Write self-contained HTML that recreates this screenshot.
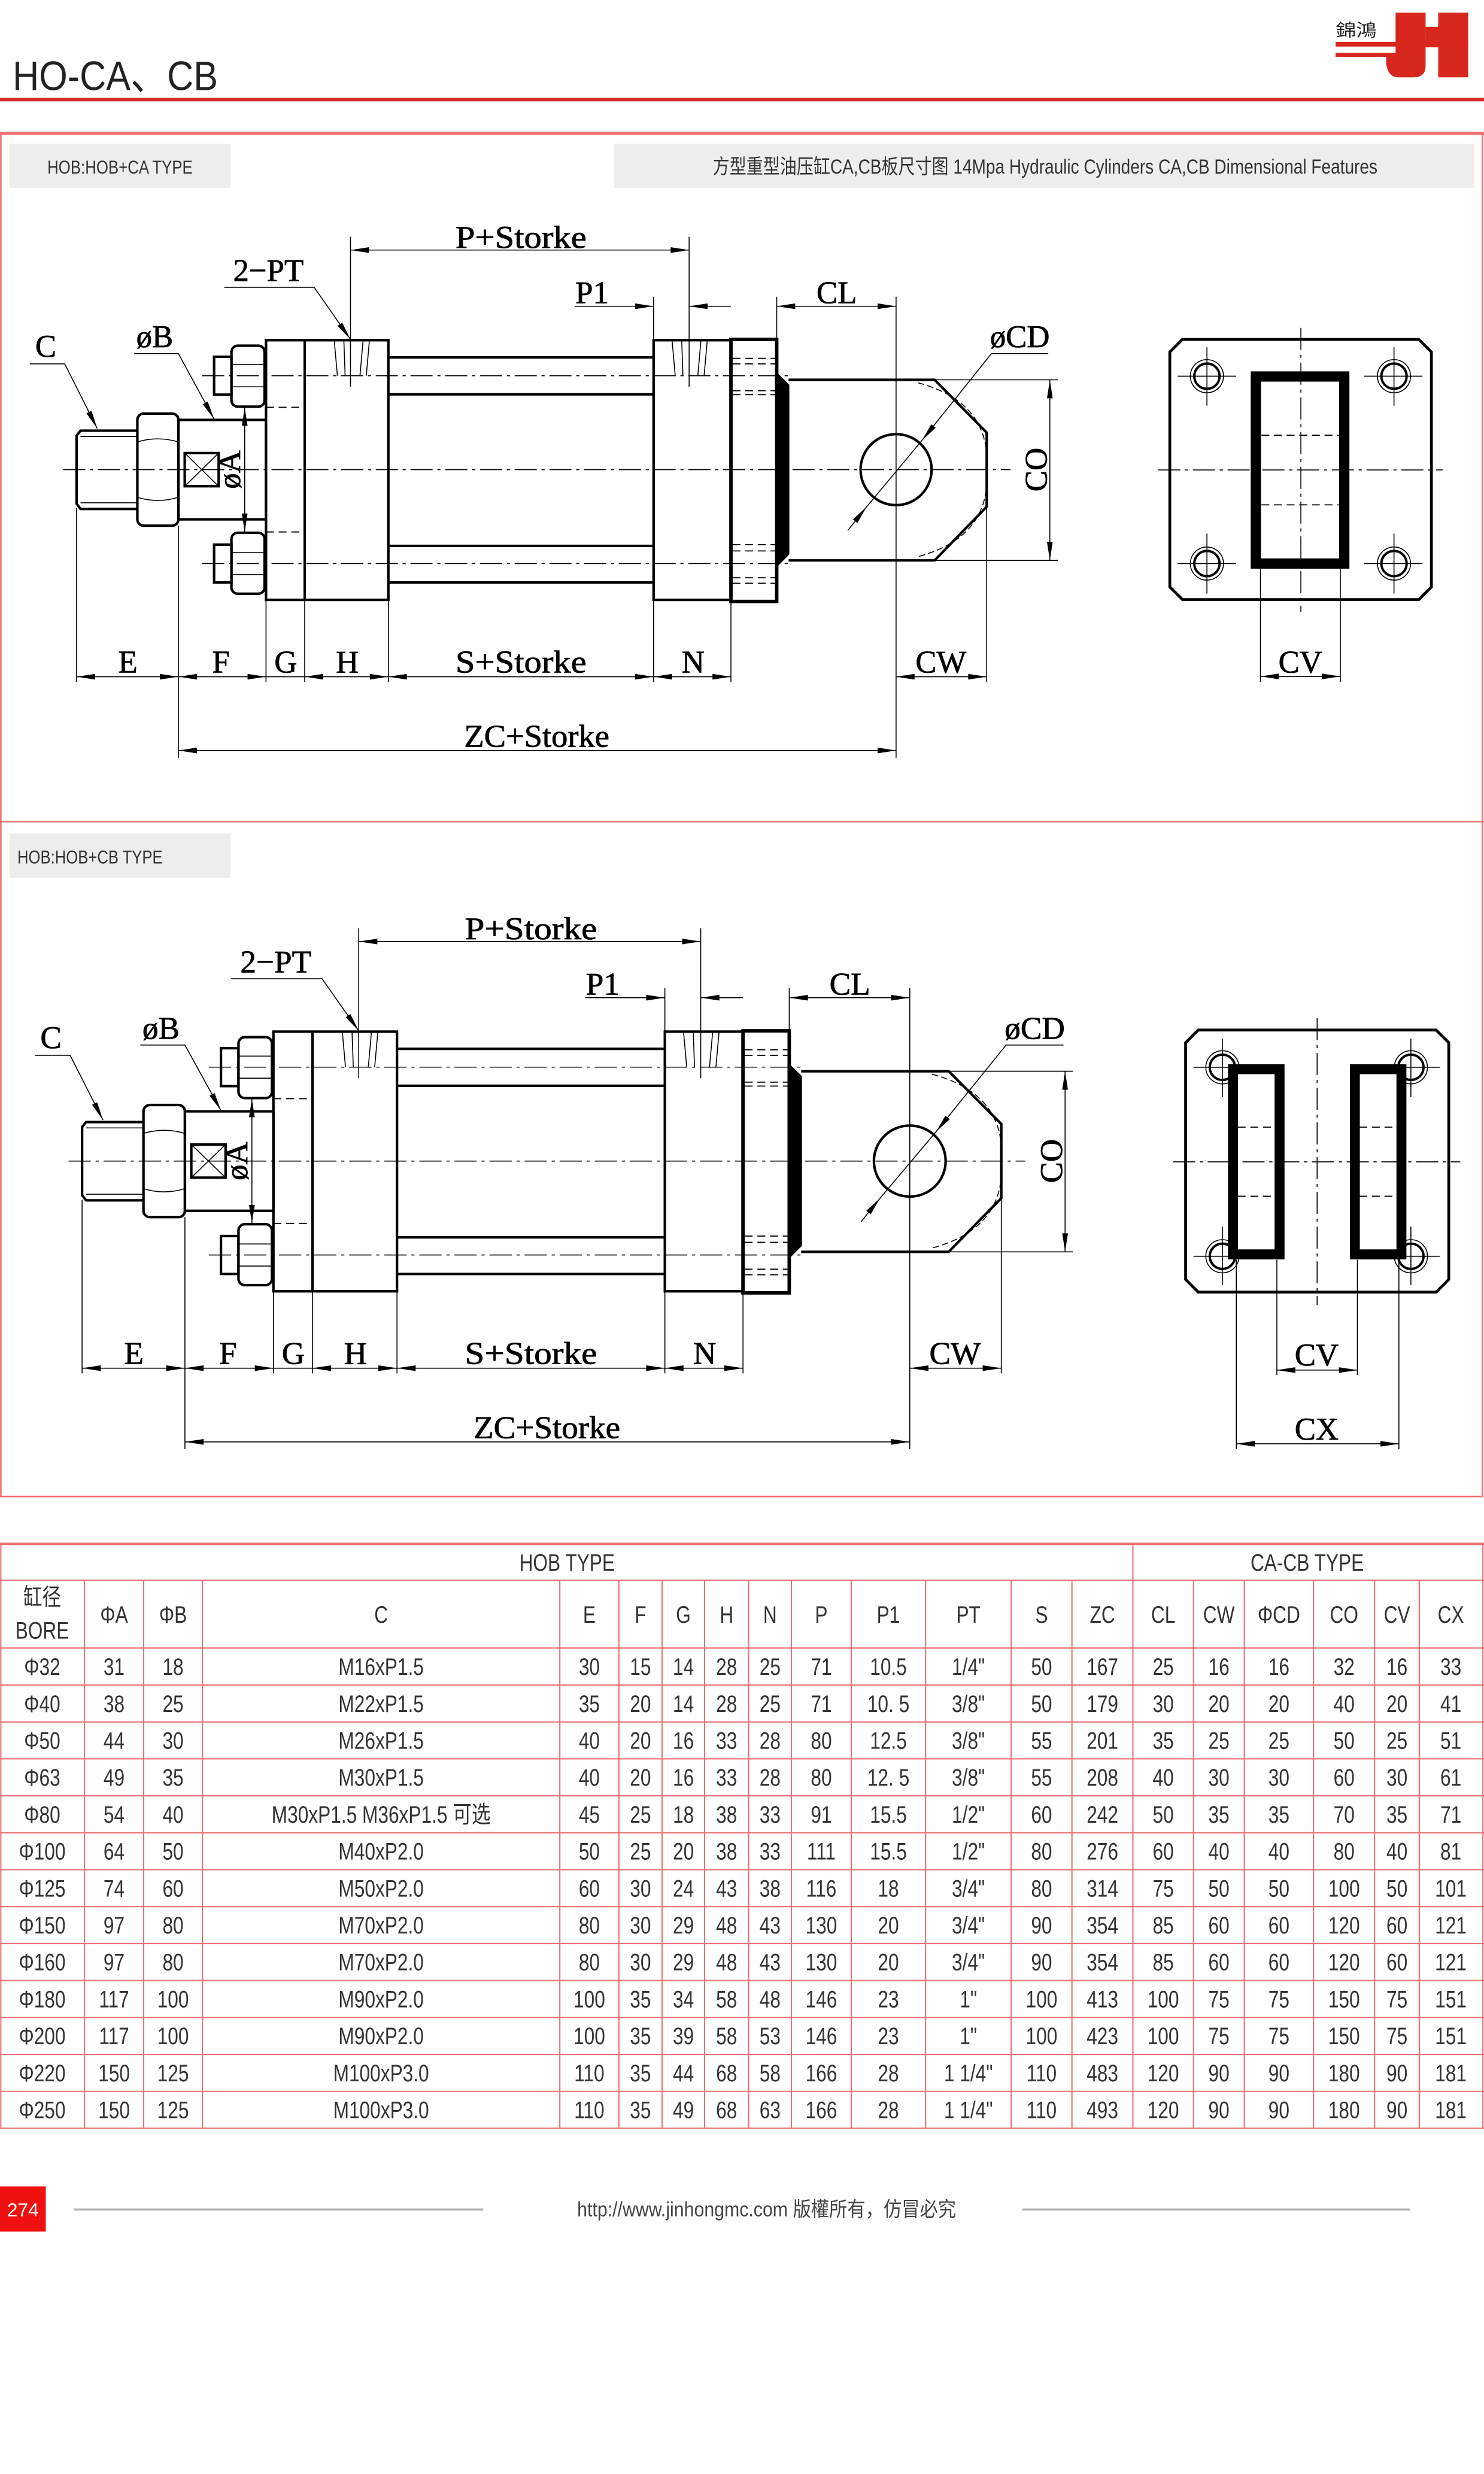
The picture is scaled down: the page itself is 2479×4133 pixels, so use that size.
<!DOCTYPE html>
<html><head><meta charset="utf-8"><style>
html,body{margin:0;padding:0;background:#fff}
svg{display:block}
.t{font-family:"Liberation Sans","Noto Sans CJK SC",sans-serif}
.s{font-family:"Liberation Serif","Noto Serif CJK SC",serif;font-size:20px;fill:#000;stroke:#000;stroke-width:.3}
.cl{stroke-width:.6;stroke-dasharray:14 3 2 3}
.th{stroke-width:.6}
.k{stroke-width:1.6}
.dsh{stroke-width:.7;stroke-dasharray:5 3}
</style></head><body>
<svg width="2479" height="4133" viewBox="0 0 940 1567.2" xmlns="http://www.w3.org/2000/svg">
<defs>
<marker id="a" viewBox="0 0 13 4" refX="13" refY="2" markerWidth="13" markerHeight="3.6" markerUnits="userSpaceOnUse" orient="auto-start-reverse"><path d="M0,0 L13,2 L0,4 z" fill="#000"/></marker>
<g id="cyl" fill="none" stroke="#000">
 <line x1="40" y1="297.5" x2="640" y2="297.5" class="cl"/>
 <line x1="128" y1="238" x2="500" y2="238" class="cl"/>
 <line x1="128" y1="357" x2="500" y2="357" class="cl"/>
 <!-- thread -->
 <path class="k" d="M87,272.8 L51,272.8 L48.5,276 L48.5,319 L51,322.4 L87,322.4"/>
 <line class="th" x1="51" y1="276.5" x2="87" y2="276.5"/><line class="th" x1="51" y1="318.5" x2="87" y2="318.5"/>
 <!-- hex nut -->
 <rect class="k" x="87" y="262" width="26" height="71" rx="4"/>
 <path class="th" d="M87,280 Q100,276 113,280 M87,315 Q100,319 113,315"/>
 <!-- body B -->
 <rect class="k" x="113" y="266" width="55.5" height="63"/>
 <rect class="k" x="117" y="287" width="21.5" height="21"/>
 <path class="th" d="M117,287 L138.5,308 M138.5,287 L117,308"/>
 <line class="th" x1="155" y1="258" x2="155" y2="337" marker-start="url(#a)" marker-end="url(#a)"/>
 <!-- tie rod nuts -->
 <rect class="k" x="135.6" y="226" width="11" height="24"/>
 <rect class="k" x="146.6" y="219" width="21" height="38.6" rx="4"/>
 <path class="th" d="M146.6,231 L167.6,231 M146.6,245 L167.6,245"/>
 <rect class="k" x="135.6" y="345" width="11" height="24"/>
 <rect class="k" x="146.6" y="337.5" width="21" height="38.6" rx="4"/>
 <path class="th" d="M146.6,350 L167.6,350 M146.6,364 L167.6,364"/>
 <!-- head -->
 <rect class="k" x="168.5" y="215.5" width="77.5" height="164.5"/>
 <line class="k" x1="193" y1="215.5" x2="193" y2="380"/>
 <line class="dsh" x1="168.5" y1="258" x2="193" y2="258"/><line class="dsh" x1="168.5" y1="337" x2="193" y2="337"/>
 <path class="th" d="M211.7,215.5 L213.7,238 M217.8,215.5 L218.6,238 M230,215.5 L228,238 M234,215.5 L232,238"/>
 <line class="th" x1="222" y1="150" x2="222" y2="245"/>
 <!-- tie rods -->
 <path class="k" d="M246,226.4 L414,226.4 M246,249.8 L414,249.8 M246,345.8 L414,345.8 M246,369 L414,369"/>
 <!-- cap -->
 <rect class="k" x="414" y="215.5" width="49" height="164.5"/>
 <path class="th" d="M425.7,215.5 L427.7,238 M431.8,215.5 L432.6,238 M444,215.5 L442,238 M448,215.5 L446,238"/>
 <line class="th" x1="436.5" y1="150" x2="436.5" y2="245"/>
 <!-- flange -->
 <rect x="463" y="215" width="29" height="166" stroke-width="2.2"/>
 <path class="dsh" d="M464,227 L491,227 M464,230.5 L491,230.5 M464,247.5 L491,247.5 M464,250 L491,250 M464,345 L491,345 M464,349 L491,349 M464,366 L491,366 M464,369.5 L491,369.5"/>
 <path d="M492,236.5 L499.5,244 L499.5,351 L492,358.6 Z" fill="#000"/>
 <!-- clevis -->
 <path class="k" d="M499.5,240.6 L592,240.6 L625,274 L625,321 L592,355 L499.5,355"/>
 <path d="M581.6,242.5 Q628,255 625,297.5 Q628,340 581.6,352.6" stroke-width=".6" stroke-dasharray="4 2"/>
 <circle class="k" cx="567.6" cy="297.5" r="22.5"/>
 <line class="th" x1="592" y1="240.6" x2="670" y2="240.6"/><line class="th" x1="592" y1="355" x2="670" y2="355"/>
 <line class="th" x1="665" y1="240.6" x2="665" y2="355" marker-start="url(#a)" marker-end="url(#a)"/>
 <!-- CD leader -->
 <path class="th" d="M664,224 L628,224"/>
 <line class="th" x1="628" y1="224" x2="584" y2="279" marker-end="url(#a)"/>
 <line class="th" x1="584" y1="279" x2="549" y2="321"/>
 <line class="th" x1="537" y1="336" x2="549" y2="321" marker-end="url(#a)"/>
 <!-- extension lines -->
 <path class="th" d="M48.5,322 L48.5,432 M113,333 L113,480 M168.5,380 L168.5,432 M193,380 L193,432 M246,380 L246,432 M414,380 L414,432 M463,380 L463,432 M567.6,188 L567.6,480 M625,321 L625,432 M492,188 L492,215 M414,188 L414,215"/>
 <!-- dims -->
 <g class="th">
 <line x1="48.5" y1="428.7" x2="113" y2="428.7" marker-start="url(#a)" marker-end="url(#a)"/>
 <line x1="113" y1="428.7" x2="168.5" y2="428.7" marker-start="url(#a)" marker-end="url(#a)"/>
 <line x1="168.5" y1="428.7" x2="193" y2="428.7"/>
 <line x1="193" y1="428.7" x2="246" y2="428.7" marker-start="url(#a)" marker-end="url(#a)"/>
 <line x1="246" y1="428.7" x2="414" y2="428.7" marker-start="url(#a)" marker-end="url(#a)"/>
 <line x1="414" y1="428.7" x2="463" y2="428.7" marker-start="url(#a)" marker-end="url(#a)"/>
 <line x1="567.6" y1="428.7" x2="625" y2="428.7" marker-start="url(#a)" marker-end="url(#a)"/>
 <line x1="113" y1="475.4" x2="567.6" y2="475.4" marker-start="url(#a)" marker-end="url(#a)"/>
 <line x1="222" y1="158.4" x2="436.5" y2="158.4" marker-start="url(#a)" marker-end="url(#a)"/>
 <line x1="364" y1="194" x2="414" y2="194" marker-end="url(#a)"/>
 <line x1="463" y1="194" x2="436.5" y2="194" marker-end="url(#a)"/>
 <line x1="492" y1="194" x2="567.6" y2="194" marker-start="url(#a)" marker-end="url(#a)"/>
 <polyline points="19,230.5 41,230.5 61.6,271.5" marker-end="url(#a)"/>
 <polyline points="85,224 113,224 135.6,265.5" marker-end="url(#a)"/>
 <polyline points="142,182 199,182 222,215" marker-end="url(#a)"/>
 </g>
</g>
<g id="lbl">
 <text class="s" x="81" y="426" text-anchor="middle">E</text>
 <text class="s" x="140" y="426" text-anchor="middle">F</text>
 <text class="s" x="181" y="426" text-anchor="middle">G</text>
 <text class="s" x="220" y="426" text-anchor="middle">H</text>
 <text class="s" x="330" y="426" text-anchor="middle" textLength="83" lengthAdjust="spacingAndGlyphs">S+Storke</text>
 <text class="s" x="439" y="426" text-anchor="middle">N</text>
 <text class="s" x="596" y="426" text-anchor="middle">CW</text>
 <text class="s" x="340" y="473" text-anchor="middle" textLength="92" lengthAdjust="spacingAndGlyphs">ZC+Storke</text>
 <text class="s" x="330" y="157" text-anchor="middle" textLength="83" lengthAdjust="spacingAndGlyphs">P+Storke</text>
 <text class="s" x="375" y="192" text-anchor="middle">P1</text>
 <text class="s" x="530" y="192" text-anchor="middle">CL</text>
 <text class="s" x="170" y="178" text-anchor="middle">2−PT</text>
 <text class="s" x="98" y="220" text-anchor="middle">øB</text>
 <text class="s" x="29" y="226" text-anchor="middle">C</text>
 <text class="s" x="646" y="220" text-anchor="middle">øCD</text>
 <text class="s" transform="translate(152,297.5) rotate(-90)" text-anchor="middle" dy="0">øA</text>
 <text class="s" transform="translate(663,297.5) rotate(-90)" text-anchor="middle">CO</text>
</g>
</defs>

<!-- header -->
<text class="t" x="8" y="57" font-size="26" textLength="130" lengthAdjust="spacingAndGlyphs" fill="#222">HO-CA、CB</text>
<rect x="0" y="62" width="940" height="2.2" fill="#d52b25"/>
<!-- logo -->
<text class="t" x="846" y="23" font-size="11" fill="#222" textLength="26" lengthAdjust="spacingAndGlyphs">錦鴻</text>
<g fill="#d7261e">
 <rect x="846" y="26.5" width="84" height="3"/>
 <rect x="846" y="33.5" width="38" height="2.5"/>
 <path d="M884,8 L903,8 L903,42 Q903,49 895,49 L886,49 Q879,49 878,40 L878,33.5 L884,33.5 Z"/>
 <rect x="911" y="8" width="19" height="41"/>
 <rect x="903" y="17" width="8" height="13"/>
</g>

<!-- panels -->
<rect x="0.5" y="84.5" width="938.5" height="863.5" fill="none" stroke="#ee7070" stroke-width="1"/>
<rect x="0" y="83.4" width="940" height="2" fill="#ee7070"/>
<line x1="0" y1="520.5" x2="940" y2="520.5" stroke="#ee7070" stroke-width="1"/>
<rect x="6" y="91" width="140" height="28" fill="#ededed"/>
<rect x="389" y="91" width="545" height="28" fill="#ededed"/>
<text class="t" x="76" y="110" font-size="12" text-anchor="middle" fill="#333" textLength="92" lengthAdjust="spacingAndGlyphs">HOB:HOB+CA TYPE</text>
<text class="t" x="662" y="110" font-size="13" text-anchor="middle" fill="#333" textLength="421" lengthAdjust="spacingAndGlyphs">方型重型油压缸CA,CB板尺寸图 14Mpa Hydraulic Cylinders CA,CB Dimensional Features</text>
<rect x="6" y="528" width="140" height="28" fill="#ededed"/>
<text class="t" x="57" y="547" font-size="12" text-anchor="middle" fill="#333" textLength="92" lengthAdjust="spacingAndGlyphs">HOB:HOB+CB TYPE</text>

<!-- drawing 1 -->
<use href="#cyl"/><use href="#lbl"/>
<!-- end view 1 -->
<g fill="none" stroke="#000">
 <path d="M749,215 L898.7,215 L906.7,223 L906.7,371.8 L898.7,379.8 L749,379.8 L741,371.8 L741,223 Z" stroke-width="1.8"/>
 <g>
  <circle cx="764.5" cy="238.3" r="8" stroke-width="1.5"/><circle cx="764.5" cy="238.3" r="10.5" class="th"/>
  <circle cx="883" cy="238.3" r="8" stroke-width="1.5"/><circle cx="883" cy="238.3" r="10.5" class="th"/>
  <circle cx="764.5" cy="357" r="8" stroke-width="1.5"/><circle cx="764.5" cy="357" r="10.5" class="th"/>
  <circle cx="883" cy="357" r="8" stroke-width="1.5"/><circle cx="883" cy="357" r="10.5" class="th"/>
  <path class="th" d="M746,238.3 L783,238.3 M764.5,220 L764.5,257 M864,238.3 L901,238.3 M883,220 L883,257 M746,357 L783,357 M764.5,338 L764.5,376 M864,357 L901,357 M883,338 L883,376"/>
 </g>
 <rect x="795.5" y="238.5" width="56" height="118.5" stroke-width="6.5"/>
 <path class="dsh" d="M799,275.7 L848,275.7 M799,319.8 L848,319.8"/>
 <line x1="733.6" y1="297.7" x2="914" y2="297.7" class="cl"/>
 <line x1="824" y1="207.7" x2="824" y2="387.7" class="cl"/>
 <path class="th" d="M798.4,360 L798.4,432 M849,360 L849,432"/>
 <line class="th" x1="798.4" y1="428.5" x2="849" y2="428.5" marker-start="url(#a)" marker-end="url(#a)"/>
</g>
<text class="s" x="823.7" y="426" text-anchor="middle">CV</text>

<!-- drawing 2 -->
<g transform="translate(3,438) scale(1.01,1)"><use href="#cyl"/><use href="#lbl"/></g>
<!-- end view 2 -->
<g fill="none" stroke="#000">
 <path d="M759,652.5 L909.7,652.5 L917.7,660.5 L917.7,810.5 L909.7,818.5 L759,818.5 L751,810.5 L751,660.5 Z" stroke-width="1.8"/>
 <circle cx="774.3" cy="676.1" r="8" stroke-width="1.5"/><circle cx="774.3" cy="676.1" r="10.5" class="th"/>
 <circle cx="893.7" cy="676.1" r="8" stroke-width="1.5"/><circle cx="893.7" cy="676.1" r="10.5" class="th"/>
 <circle cx="774.3" cy="795.8" r="8" stroke-width="1.5"/><circle cx="774.3" cy="795.8" r="10.5" class="th"/>
 <circle cx="893.7" cy="795.8" r="8" stroke-width="1.5"/><circle cx="893.7" cy="795.8" r="10.5" class="th"/>
 <path class="th" d="M756,676.1 L792,676.1 M774.3,658 L774.3,695 M875,676.1 L912,676.1 M893.7,658 L893.7,695 M756,795.8 L792,795.8 M774.3,777 L774.3,814 M875,795.8 L912,795.8 M893.7,777 L893.7,814"/>
 <rect x="781" y="677.3" width="29.5" height="117.3" stroke-width="6.3" fill="#fff"/>
 <rect x="858.2" y="677.3" width="29.5" height="117.3" stroke-width="6.3" fill="#fff"/>
 <path class="dsh" d="M784,714 L807,714 M784,757.8 L807,757.8 M861,714 L884,714 M861,757.8 L884,757.8"/>
 <line x1="743" y1="736" x2="925" y2="736" class="cl"/>
 <line x1="834.3" y1="645" x2="834.3" y2="826.7" class="cl"/>
 <path class="th" d="M808.8,798 L808.8,871 M859.8,798 L859.8,871 M783.1,798 L783.1,918 M886.1,798 L886.1,918"/>
 <line class="th" x1="808.8" y1="867.9" x2="859.8" y2="867.9" marker-start="url(#a)" marker-end="url(#a)"/>
 <line class="th" x1="783.1" y1="914.6" x2="886.1" y2="914.6" marker-start="url(#a)" marker-end="url(#a)"/>
</g>
<text class="s" x="834" y="865" text-anchor="middle">CV</text>
<text class="s" x="834" y="912" text-anchor="middle">CX</text>

<!-- table -->
<g stroke="#ee7070" stroke-width=".8" fill="none">
 <line x1="0" y1="978" x2="940" y2="978" stroke-width="1.6"/>
 <path d="M0,1001 H940 M0,1044 H940 M0,1067.4 H940 M0,1090.8 H940 M0,1114.2 H940 M0,1137.6 H940 M0,1161 H940 M0,1184.4 H940 M0,1207.8 H940 M0,1231.2 H940 M0,1254.6 H940 M0,1278 H940 M0,1301.4 H940 M0,1324.8 H940 M0,1348.2 H940"/>
 <path d="M0.5,978 V1348.2 M939.3,978 V1348.2 M717.6,978 V1001"/>
 <path d="M53.5,1001 V1348.2 M91,1001 V1348.2 M128.2,1001 V1348.2 M354.6,1001 V1348.2 M392,1001 V1348.2 M419.4,1001 V1348.2 M446.3,1001 V1348.2 M474.2,1001 V1348.2 M501.3,1001 V1348.2 M539.2,1001 V1348.2 M586.3,1001 V1348.2 M640.5,1001 V1348.2 M679,1001 V1348.2 M717.6,1001 V1348.2 M756,1001 V1348.2 M788.2,1001 V1348.2 M832,1001 V1348.2 M870.7,1001 V1348.2 M899,1001 V1348.2"/>
</g>
<g class="t" font-size="15" fill="#333" text-anchor="middle" transform="scale(0.8,1)">
 <text x="449" y="995">HOB TYPE</text>
 <text x="1035" y="995">CA-CB TYPE</text>
 <text x="33.4" y="1017">缸径</text><text x="33.4" y="1038">BORE</text>
 <g transform="translate(0,1028)"><text x="90.3">ΦA</text><text x="137">ΦB</text><text x="301.75">C</text><text x="466.6">E</text><text x="507.1">F</text><text x="541.1">G</text><text x="575.3">H</text><text x="609.7">N</text><text x="650.3">P</text><text x="703.4">P1</text><text x="766.75">PT</text><text x="824.7">S</text><text x="872.9">ZC</text><text x="921">CL</text><text x="965.1">CW</text><text x="1012.6">ΦCD</text><text x="1064.2">CO</text><text x="1106.1">CV</text><text x="1148.75">CX</text></g>
 <g transform="translate(0,1061)"><text x="33.4">Φ32</text><text x="90.3">31</text><text x="137">18</text><text x="301.75">M16xP1.5</text><text x="466.6">30</text><text x="507.1">15</text><text x="541.1">14</text><text x="575.3">28</text><text x="609.7">25</text><text x="650.3">71</text><text x="703.4">10.5</text><text x="766.75">1/4"</text><text x="824.7">50</text><text x="872.9">167</text><text x="921">25</text><text x="965.1">16</text><text x="1012.6">16</text><text x="1064.2">32</text><text x="1106.1">16</text><text x="1148.75">33</text></g>
 <g transform="translate(0,1084.4)"><text x="33.4">Φ40</text><text x="90.3">38</text><text x="137">25</text><text x="301.75">M22xP1.5</text><text x="466.6">35</text><text x="507.1">20</text><text x="541.1">14</text><text x="575.3">28</text><text x="609.7">25</text><text x="650.3">71</text><text x="703.4">10. 5</text><text x="766.75">3/8"</text><text x="824.7">50</text><text x="872.9">179</text><text x="921">30</text><text x="965.1">20</text><text x="1012.6">20</text><text x="1064.2">40</text><text x="1106.1">20</text><text x="1148.75">41</text></g>
 <g transform="translate(0,1107.8)"><text x="33.4">Φ50</text><text x="90.3">44</text><text x="137">30</text><text x="301.75">M26xP1.5</text><text x="466.6">40</text><text x="507.1">20</text><text x="541.1">16</text><text x="575.3">33</text><text x="609.7">28</text><text x="650.3">80</text><text x="703.4">12.5</text><text x="766.75">3/8"</text><text x="824.7">55</text><text x="872.9">201</text><text x="921">35</text><text x="965.1">25</text><text x="1012.6">25</text><text x="1064.2">50</text><text x="1106.1">25</text><text x="1148.75">51</text></g>
 <g transform="translate(0,1131.2)"><text x="33.4">Φ63</text><text x="90.3">49</text><text x="137">35</text><text x="301.75">M30xP1.5</text><text x="466.6">40</text><text x="507.1">20</text><text x="541.1">16</text><text x="575.3">33</text><text x="609.7">28</text><text x="650.3">80</text><text x="703.4">12. 5</text><text x="766.75">3/8"</text><text x="824.7">55</text><text x="872.9">208</text><text x="921">40</text><text x="965.1">30</text><text x="1012.6">30</text><text x="1064.2">60</text><text x="1106.1">30</text><text x="1148.75">61</text></g>
 <g transform="translate(0,1154.6)"><text x="33.4">Φ80</text><text x="90.3">54</text><text x="137">40</text><text x="301.75">M30xP1.5   M36xP1.5   可选</text><text x="466.6">45</text><text x="507.1">25</text><text x="541.1">18</text><text x="575.3">38</text><text x="609.7">33</text><text x="650.3">91</text><text x="703.4">15.5</text><text x="766.75">1/2"</text><text x="824.7">60</text><text x="872.9">242</text><text x="921">50</text><text x="965.1">35</text><text x="1012.6">35</text><text x="1064.2">70</text><text x="1106.1">35</text><text x="1148.75">71</text></g>
 <g transform="translate(0,1178)"><text x="33.4">Φ100</text><text x="90.3">64</text><text x="137">50</text><text x="301.75">M40xP2.0</text><text x="466.6">50</text><text x="507.1">25</text><text x="541.1">20</text><text x="575.3">38</text><text x="609.7">33</text><text x="650.3">111</text><text x="703.4">15.5</text><text x="766.75">1/2"</text><text x="824.7">80</text><text x="872.9">276</text><text x="921">60</text><text x="965.1">40</text><text x="1012.6">40</text><text x="1064.2">80</text><text x="1106.1">40</text><text x="1148.75">81</text></g>
 <g transform="translate(0,1201.4)"><text x="33.4">Φ125</text><text x="90.3">74</text><text x="137">60</text><text x="301.75">M50xP2.0</text><text x="466.6">60</text><text x="507.1">30</text><text x="541.1">24</text><text x="575.3">43</text><text x="609.7">38</text><text x="650.3">116</text><text x="703.4">18</text><text x="766.75">3/4"</text><text x="824.7">80</text><text x="872.9">314</text><text x="921">75</text><text x="965.1">50</text><text x="1012.6">50</text><text x="1064.2">100</text><text x="1106.1">50</text><text x="1148.75">101</text></g>
 <g transform="translate(0,1224.8)"><text x="33.4">Φ150</text><text x="90.3">97</text><text x="137">80</text><text x="301.75">M70xP2.0</text><text x="466.6">80</text><text x="507.1">30</text><text x="541.1">29</text><text x="575.3">48</text><text x="609.7">43</text><text x="650.3">130</text><text x="703.4">20</text><text x="766.75">3/4"</text><text x="824.7">90</text><text x="872.9">354</text><text x="921">85</text><text x="965.1">60</text><text x="1012.6">60</text><text x="1064.2">120</text><text x="1106.1">60</text><text x="1148.75">121</text></g>
 <g transform="translate(0,1248.2)"><text x="33.4">Φ160</text><text x="90.3">97</text><text x="137">80</text><text x="301.75">M70xP2.0</text><text x="466.6">80</text><text x="507.1">30</text><text x="541.1">29</text><text x="575.3">48</text><text x="609.7">43</text><text x="650.3">130</text><text x="703.4">20</text><text x="766.75">3/4"</text><text x="824.7">90</text><text x="872.9">354</text><text x="921">85</text><text x="965.1">60</text><text x="1012.6">60</text><text x="1064.2">120</text><text x="1106.1">60</text><text x="1148.75">121</text></g>
 <g transform="translate(0,1271.6)"><text x="33.4">Φ180</text><text x="90.3">117</text><text x="137">100</text><text x="301.75">M90xP2.0</text><text x="466.6">100</text><text x="507.1">35</text><text x="541.1">34</text><text x="575.3">58</text><text x="609.7">48</text><text x="650.3">146</text><text x="703.4">23</text><text x="766.75">1"</text><text x="824.7">100</text><text x="872.9">413</text><text x="921">100</text><text x="965.1">75</text><text x="1012.6">75</text><text x="1064.2">150</text><text x="1106.1">75</text><text x="1148.75">151</text></g>
 <g transform="translate(0,1295)"><text x="33.4">Φ200</text><text x="90.3">117</text><text x="137">100</text><text x="301.75">M90xP2.0</text><text x="466.6">100</text><text x="507.1">35</text><text x="541.1">39</text><text x="575.3">58</text><text x="609.7">53</text><text x="650.3">146</text><text x="703.4">23</text><text x="766.75">1"</text><text x="824.7">100</text><text x="872.9">423</text><text x="921">100</text><text x="965.1">75</text><text x="1012.6">75</text><text x="1064.2">150</text><text x="1106.1">75</text><text x="1148.75">151</text></g>
 <g transform="translate(0,1318.4)"><text x="33.4">Φ220</text><text x="90.3">150</text><text x="137">125</text><text x="301.75">M100xP3.0</text><text x="466.6">110</text><text x="507.1">35</text><text x="541.1">44</text><text x="575.3">68</text><text x="609.7">58</text><text x="650.3">166</text><text x="703.4">28</text><text x="766.75">1 1/4"</text><text x="824.7">110</text><text x="872.9">483</text><text x="921">120</text><text x="965.1">90</text><text x="1012.6">90</text><text x="1064.2">180</text><text x="1106.1">90</text><text x="1148.75">181</text></g>
 <g transform="translate(0,1341.8)"><text x="33.4">Φ250</text><text x="90.3">150</text><text x="137">125</text><text x="301.75">M100xP3.0</text><text x="466.6">110</text><text x="507.1">35</text><text x="541.1">49</text><text x="575.3">68</text><text x="609.7">63</text><text x="650.3">166</text><text x="703.4">28</text><text x="766.75">1 1/4"</text><text x="824.7">110</text><text x="872.9">493</text><text x="921">120</text><text x="965.1">90</text><text x="1012.6">90</text><text x="1064.2">180</text><text x="1106.1">90</text><text x="1148.75">181</text></g>
</g>

<!-- footer -->
<rect x="0" y="1385" width="29" height="28.6" fill="#f01010"/>
<text class="t" x="14.5" y="1404" font-size="12" fill="#fff" text-anchor="middle" textLength="20" lengthAdjust="spacingAndGlyphs">274</text>
<rect x="47" y="1399" width="259" height="1.3" fill="#b5b5b5"/>
<rect x="647.5" y="1399" width="245.5" height="1.3" fill="#b5b5b5"/>
<text class="t" x="485.6" y="1404" font-size="13" fill="#444" text-anchor="middle" textLength="240" lengthAdjust="spacingAndGlyphs">http://www.jinhongmc.com 版權所有，仿冒必究</text>
</svg>
</body></html>
